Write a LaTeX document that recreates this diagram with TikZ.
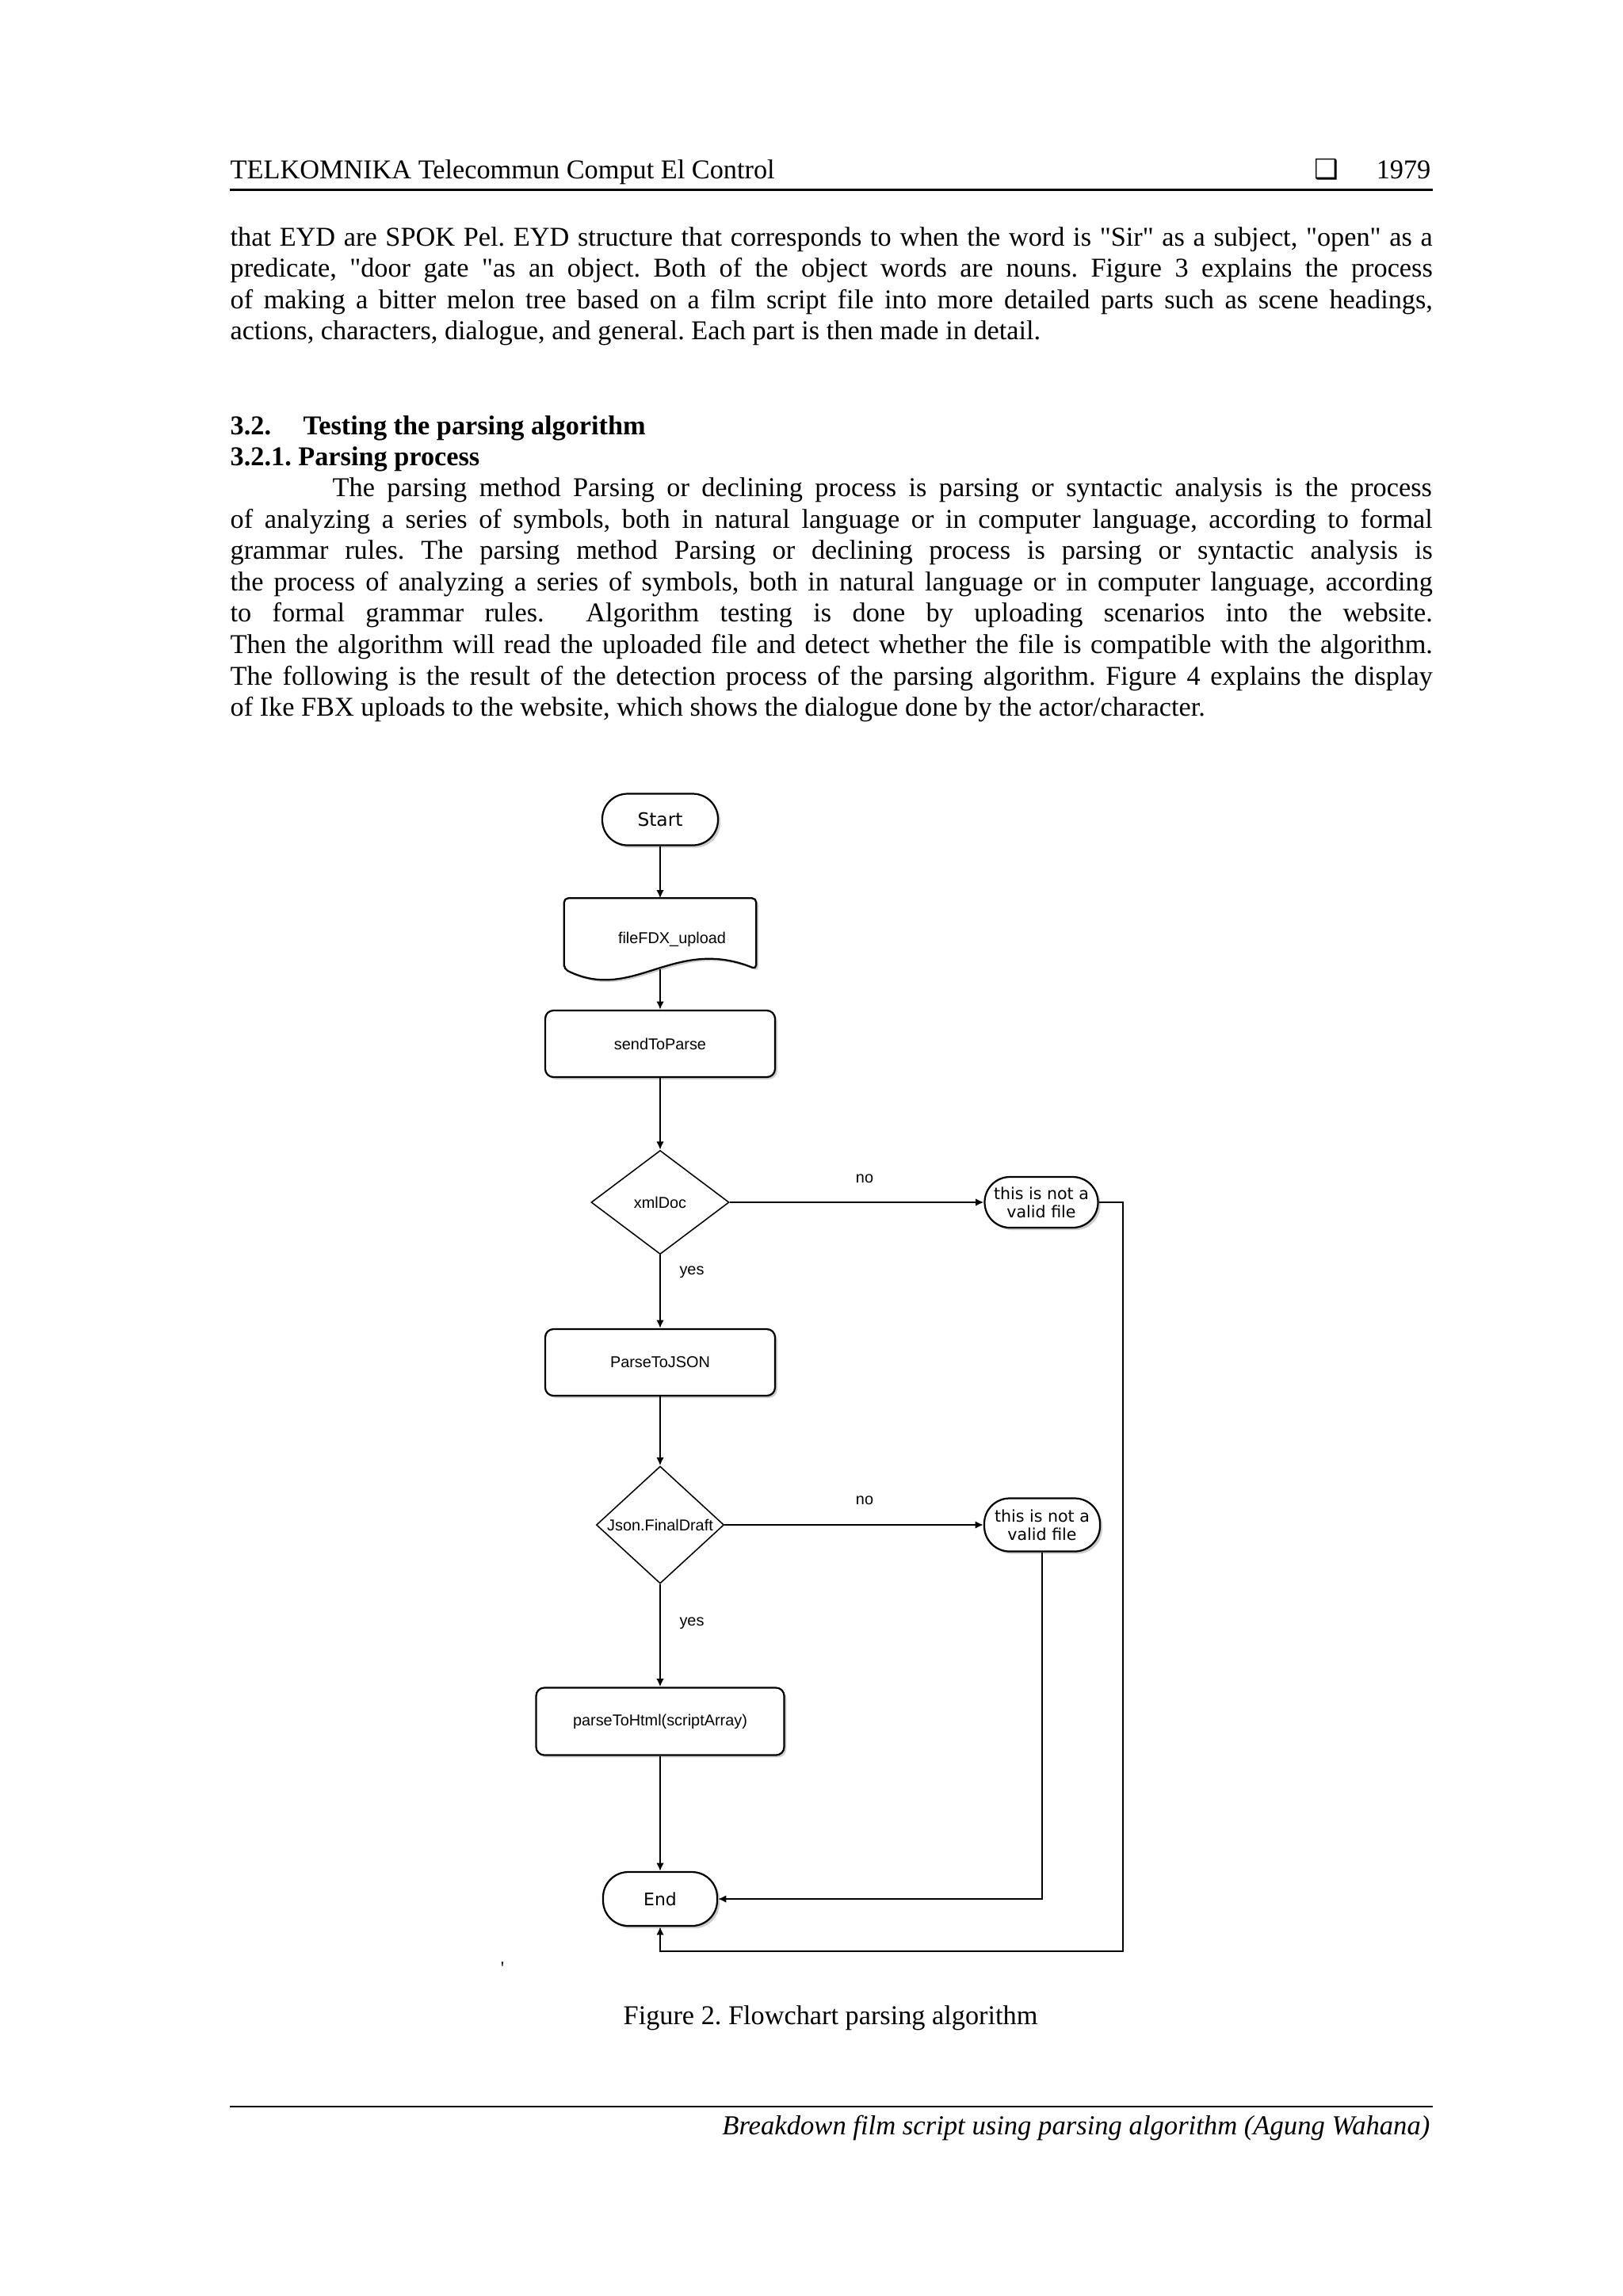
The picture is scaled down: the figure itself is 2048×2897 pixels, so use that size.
\documentclass[tikz,border=0pt]{standalone}
\usepackage{fontspec}
\newfontfamily\serif{Liberation Serif}
\newfontfamily\flowfont{Liberation Sans}
\newfontfamily\termfont{DejaVu Sans}
\usetikzlibrary{shapes.geometric,arrows.meta,shadows,calc}
\newcommand\pxu{0.29167pt}
\newcommand\jl[1]{\makebox[442.5pt][s]{#1}}
\newcommand\jli[1]{\makebox[404.6pt][s]{#1}}
\frenchspacing
\begin{document}
\frenchspacing
\begin{tikzpicture}[x=0.29167pt,y=-0.29167pt,
  txt/.style={anchor=base west,inner sep=0pt,font=\serif\fontsize{10pt}{12pt}\selectfont},
  flowbox/.style={draw,line width=0.65pt,rounded corners=3pt,fill=white,
    drop shadow={shadow xshift=0.8pt,shadow yshift=-0.8pt,opacity=0.4},
    inner sep=0pt,font=\flowfont\fontsize{5.8pt}{7pt}\selectfont},
  terminal/.style={draw,line width=0.65pt,rounded corners=9.3pt,fill=white,
    drop shadow={shadow xshift=0.9pt,shadow yshift=-0.9pt,opacity=0.4},
    inner sep=0pt,align=center,font=\termfont\fontsize{6pt}{6.6pt}\selectfont},
  decision/.style={diamond,draw,line width=0.45pt,fill=white,inner sep=0pt},
  dlabel/.style={font=\flowfont\fontsize{5.8pt}{7pt}\selectfont},
  conn/.style={line width=0.6pt,-{Latex[length=3pt,width=2.8pt]}},
  edgelbl/.style={inner sep=0pt,font=\flowfont\fontsize{5.8pt}{7pt}\selectfont}
]
\useasboundingbox (0,0) rectangle (2048,2897);
\fill[white] (0,0) rectangle (2048,2897);

% ---------- header ----------
\node[txt] (hd) at (290,225) {TELKOMNIKA Telecommun Comput El Control};
\node[anchor=base east,inner sep=0pt,font=\serif\fontsize{10pt}{12pt}\selectfont] (pg) at (1806,225) {1979};
\node[anchor=base,inner sep=0pt,font=\termfont\fontsize{10pt}{12pt}\selectfont] (sq) at (1674,225) {❑};
\draw[line width=0.8pt] (290,239.5) -- (1808,239.5);

% ---------- paragraph 1 ----------
\node[txt] (a1) at (290,310) {\jl{that EYD are SPOK Pel. EYD structure that corresponds to when the word is "Sir" as a subject, "open" as a}};
\node[txt] (a2) at (290,349.5) {\jl{predicate, "door gate "as an object. Both of the object words are nouns. Figure 3 explains the process}};
\node[txt] (a3) at (290,389) {\jl{of making a bitter melon tree based on a film script file into more detailed parts such as scene headings,}};
\node[txt] (a4) at (290,428.5) {actions, characters, dialogue, and general. Each part is then made in detail.};

% ---------- headings ----------
\node[txt,font=\serif\bfseries\fontsize{10pt}{12pt}\selectfont] (h1n) at (290,548) {3.2.};
\node[txt,font=\serif\bfseries\fontsize{10pt}{12pt}\selectfont] (h1) at (382,548) {Testing the parsing algorithm};
\node[txt,font=\serif\bfseries\fontsize{10pt}{12pt}\selectfont] (h2) at (290,587) {3.2.1. Parsing process};

% ---------- paragraph 2 ----------
\node[txt] (b1) at (419,626.5) {\jli{The parsing method Parsing or declining process is parsing or syntactic analysis is the process}};
\node[txt] (b2) at (290,666.1) {\jl{of analyzing a series of symbols, both in natural language or in computer language, according to formal}};
\node[txt] (b3) at (290,705.7) {\jl{grammar rules. The parsing method Parsing or declining process is parsing or syntactic analysis is}};
\node[txt] (b4) at (290,745.3) {\jl{the process of analyzing a series of symbols, both in natural language or in computer language, according}};
\node[txt] (b5) at (290,784.9) {\jl{to formal grammar rules.\ \ Algorithm testing is done by uploading scenarios into the website.}};
\node[txt] (b6) at (290,824.5) {\jl{Then the algorithm will read the uploaded file and detect whether the file is compatible with the algorithm.}};
\node[txt] (b7) at (290,864.1) {\jl{The following is the result of the detection process of the parsing algorithm. Figure 4 explains the display}};
\node[txt] (b8) at (290,903.7) {of Ike FBX uploads to the website, which shows the dialogue done by the actor/character.};

% ---------- flowchart ----------
\node[terminal,minimum width=146*\pxu,minimum height=65*\pxu,font=\termfont\fontsize{6.8pt}{8pt}\selectfont] (start) at (833,1034) {Start};

\node[minimum width=241*\pxu,minimum height=88*\pxu,inner sep=0pt] (doc) at (833,1178) {};
\path[draw,line width=0.65pt,fill=white,rounded corners=1.5pt,
      drop shadow={shadow xshift=0.8pt,shadow yshift=-0.8pt,opacity=0.4}]
  (doc.south west) -- (doc.north west) -- (doc.north east) -- (doc.south east)
  .. controls ($(doc.south east)+(-104,-42)$) and ($(doc.south west)+(87,43)$) .. (doc.south west) -- cycle;
\node[dlabel,inner sep=0pt] (doctxt) at (848,1185) {fileFDX\_upload};

\node[flowbox,minimum width=290*\pxu,minimum height=84*\pxu] (send) at (833,1317) {sendToParse};
\node[decision,minimum width=174*\pxu,minimum height=131*\pxu,label={[dlabel]center:xmlDoc}] (d1) at (833,1517) {};
\node[terminal,minimum width=143*\pxu,minimum height=64*\pxu] (t1) at (1314,1517) {this is not a\\valid file};
\node[flowbox,minimum width=290*\pxu,minimum height=84*\pxu] (parse) at (833,1719) {ParseToJSON};
\node[decision,minimum width=161*\pxu,minimum height=148*\pxu,label={[dlabel]center:Json.FinalDraft}] (d2) at (833,1924) {};
\node[terminal,minimum width=146*\pxu,minimum height=67*\pxu] (t2) at (1315,1924) {this is not a\\valid file};
\node[flowbox,minimum width=313*\pxu,minimum height=85*\pxu] (html) at (833,2172) {parseToHtml(scriptArray)};
\node[terminal,minimum width=144*\pxu,minimum height=68*\pxu,font=\termfont\fontsize{6.4pt}{8pt}\selectfont] (end) at (833,2396) {End};
\coordinate (c1) at (1417,2462);

\draw[conn] (start) -- (doc);
\draw[conn] (doc.south) -- (send);
\draw[conn] (send) -- (d1);
\draw[conn] (d1) -- (t1);
\draw[conn] (d1) -- (parse);
\draw[conn] (parse) -- (d2);
\draw[conn] (d2) -- (t2);
\draw[conn] (d2) -- (html);
\draw[conn] (html) -- (end);
\draw[conn] (t2.south) |- (end.east);
\draw[conn] (t1.east) -| (c1) -| (end.south);

\node[edgelbl] (no1) at (1091,1487) {no};
\node[edgelbl] (yes1) at (873,1605) {yes};
\node[edgelbl] (no2) at (1091,1893) {no};
\node[edgelbl] (yes2) at (873,2048) {yes};
\node[inner sep=0pt,font=\serif\fontsize{7pt}{8pt}\selectfont] (tick) at (634,2484) {'};

% ---------- caption and footer ----------
\node[txt] (cap) at (786,2554) {Figure 2. Flowchart parsing algorithm};
\draw[line width=0.8pt] (290,2658) -- (1808,2658);
\node[anchor=base east,inner sep=0pt,font=\serif\itshape\fontsize{10.1pt}{12pt}\selectfont] (ft) at (1805,2693) {Breakdown film script using parsing algorithm (Agung Wahana)};
\end{tikzpicture}
\end{document}
